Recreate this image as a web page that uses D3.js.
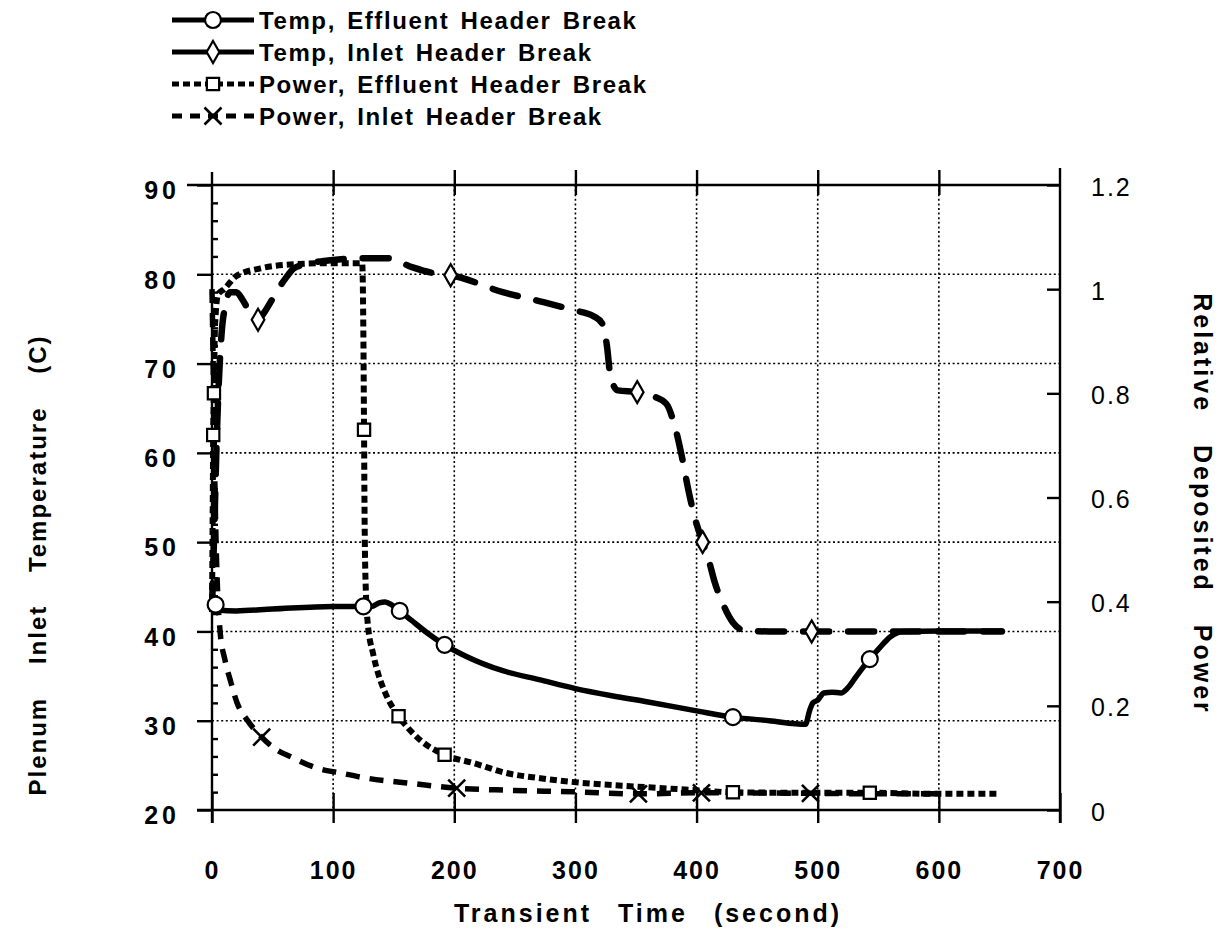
<!DOCTYPE html>
<html lang="en">
  <head>
    <meta charset="UTF-8" />
    <title>Plenum inlet temperature and deposited power</title>
    <style>
      body { margin: 0; background: #fff; }
      svg text { font-family: "Liberation Sans", Arial, Helvetica, sans-serif; fill: #000; }
    </style>
  </head>

  <body>
    <svg width="1221" height="934"></svg>

    <script src="https://d3js.org/d3.v7.min.js"></script>
    <script>
      // time axis ticks and both y axes
      var timeTicks = [0, 100, 200, 300, 400, 500, 600, 700];
      var tempTicks = [20, 30, 40, 50, 60, 70, 80, 90];
      var powerTicks = [0, 0.2, 0.4, 0.6, 0.8, 1, 1.2];

      // Temp, Effluent Header Break  [time s, temp C]
      var tempEffluent = [
        [0, 43.6], [3, 43.0], [5, 42.4], [20, 42.3], [50, 42.5], [100, 42.8],
        [125, 42.8], [132, 42.8], [138, 43.2], [143, 43.3], [148, 43.0],
        [152, 42.6], [155, 42.3], [165, 41.2], [178, 39.8], [192, 38.5],
        [210, 37.2], [240, 35.6], [270, 34.6], [300, 33.6], [330, 32.8],
        [360, 32.1], [400, 31.1], [430, 30.4], [460, 30.0], [490, 29.6],
        [493, 31.0], [496, 32.0], [500, 32.3], [505, 33.1], [512, 33.2],
        [519, 33.1], [525, 33.7], [532, 35.0], [543, 36.9], [552, 38.3],
        [560, 39.4], [571, 40.0], [600, 40.05], [652, 40.05]
      ];
      var tempEffluentMarks = [[3, 43.0], [125, 42.8], [155, 42.3], [192, 38.5], [430, 30.4], [543, 36.9]];

      // Temp, Inlet Header Break
      var tempInlet = [
        [0, 42.5], [2, 52], [4, 62], [6, 69], [8, 73.5], [11, 76.5], [15, 78],
        [20, 78.0], [25, 77.2], [31, 75.8], [37, 74.8], [42, 75.5], [48, 76.8],
        [54, 78.2], [61, 79.6], [68, 80.7], [80, 81.2], [100, 81.6], [130, 81.8],
        [145, 81.8], [165, 80.8], [184, 80.1], [197, 79.9], [240, 78.0],
        [270, 77.0], [298, 76.0], [315, 75.3], [322, 74.5], [326, 72.0],
        [329, 68.5], [335, 67.0], [351, 66.8], [365, 66.3], [375, 65.5],
        [382, 63.0], [388, 59.5], [393, 56.0], [398, 53.0], [405, 50.0],
        [410, 48.0], [415, 45.5], [422, 43.0], [430, 41.0], [440, 40.1],
        [460, 40.0], [495, 40.0], [652, 40.0]
      ];
      var tempInletMarks = [[38, 74.9], [197, 79.9], [351, 66.8], [405, 50.0], [495, 40.0]];

      // Power, Effluent Header Break  [time s, relative power]
      var powerEffluent = [
        [0, 0.38], [0.5, 0.55], [1, 0.72], [1.6, 0.8], [2.5, 0.93], [5, 0.99],
        [10, 1.0], [20, 1.025], [40, 1.04], [70, 1.048], [100, 1.05], [124, 1.05],
        [125, 0.9], [125.5, 0.73], [126, 0.55], [127, 0.42], [128.5, 0.36],
        [133, 0.3], [137, 0.263], [143, 0.225], [154, 0.18], [162, 0.157],
        [172, 0.134], [192, 0.106], [216, 0.09], [243, 0.071], [271, 0.061],
        [306, 0.052], [350, 0.045], [400, 0.038], [430, 0.034], [500, 0.033],
        [543, 0.033], [600, 0.031], [648, 0.031]
      ];
      var powerEffluentMarks = [[1, 0.72], [1.6, 0.8], [125.5, 0.73], [154, 0.18], [192, 0.106], [430, 0.034], [543, 0.033]];

      // Power, Inlet Header Break
      var powerInlet = [
        [0, 1.0], [1, 0.85], [2, 0.68], [3, 0.55], [4, 0.46], [5, 0.4],
        [6.6, 0.345], [10.7, 0.288], [15, 0.25], [20.5, 0.207], [29, 0.173],
        [41, 0.14], [50, 0.121], [67, 0.1], [86, 0.081], [106, 0.071],
        [128, 0.061], [161, 0.052], [202, 0.042], [243, 0.038], [298, 0.035],
        [352, 0.031], [404, 0.033], [494, 0.032], [560, 0.031], [600, 0.031]
      ];
      var powerInletMarks = [[41, 0.14], [202, 0.042], [352, 0.031], [404, 0.033], [494, 0.032]];

      var legendLabels = [
        "Temp, Effluent Header Break",
        "Temp, Inlet Header Break",
        "Power, Effluent Header Break",
        "Power, Inlet Header Break"
      ];

      (function () {
        "use strict";

        var svg = d3.select("svg");

        var x = d3.scaleLinear().domain([0, 700]).range([212, 1060]);
        var yT = d3.scaleLinear().domain([20, 90]).range([810, 185]);
        var yP = d3.scaleLinear().domain([0, 1.2]).range([810, 185]);

        var left = x.range()[0], right = x.range()[1];
        var top = yT.range()[1], bottom = yT.range()[0];

        // dotted grid
        var grid = svg.append("g")
          .attr("stroke", "#000")
          .attr("stroke-width", 1.6)
          .attr("stroke-dasharray", "2,2.6");
        grid.selectAll(".gx")
          .data(timeTicks.slice(1, -1))
          .enter().append("line")
          .attr("x1", function (d) { return x(d); })
          .attr("x2", function (d) { return x(d); })
          .attr("y1", top).attr("y2", bottom);
        grid.selectAll(".gy")
          .data(tempTicks.slice(1, -1))
          .enter().append("line")
          .attr("x1", left).attr("x2", right)
          .attr("y1", function (d) { return yT(d); })
          .attr("y2", function (d) { return yT(d); });

        // frame
        var frame = svg.append("g").attr("stroke", "#000").attr("stroke-width", 2.4);
        frame.append("line").attr("x1", left - 25).attr("x2", right).attr("y1", top).attr("y2", top);
        frame.append("line").attr("x1", left - 15).attr("x2", right).attr("y1", bottom).attr("y2", bottom);
        frame.append("line").attr("x1", left).attr("x2", left).attr("y1", top - 13).attr("y2", bottom + 13);
        frame.append("line").attr("x1", right).attr("x2", right).attr("y1", top - 17).attr("y2", bottom + 13);

        function styleAxis(g) {
          g.select(".domain").remove();
          g.selectAll(".tick line").attr("stroke", "#000").attr("stroke-width", 2.4);
        }

        // left axis
        svg.append("g")
          .attr("transform", "translate(" + left + ",0)")
          .call(d3.axisLeft(yT).tickValues(tempTicks).tickSize(15).tickPadding(17))
          .call(styleAxis)
          .selectAll("text")
          .attr("font-size", 25)
          .attr("font-weight", "bold")
          .attr("letter-spacing", 4)
          .attr("dy", "0.55em");

        // left minor ticks (inside)
        svg.append("g")
          .attr("transform", "translate(" + left + ",0)")
          .call(d3.axisRight(yT).tickValues(d3.range(22, 90, 2).filter(function (d) { return d % 10 !== 0; }))
            .tickSize(6).tickFormat(""))
          .call(styleAxis);

        // right axis
        svg.append("g")
          .attr("transform", "translate(" + right + ",0)")
          .call(d3.axisRight(yP).tickValues(powerTicks).tickSize(-13).tickPadding(31)
            .tickFormat(function (d) { return d === 0 || d === 1 ? String(d) : d.toFixed(1); }))
          .call(styleAxis)
          .selectAll("text")
          .attr("font-size", 25)
          .attr("letter-spacing", 2)
          .attr("dy", "0.4em");

        // bottom axis, ticks cross the line
        var bx = svg.append("g")
          .attr("transform", "translate(0," + bottom + ")")
          .call(d3.axisBottom(x).tickValues(timeTicks).tickSize(13).tickPadding(38))
          .call(styleAxis);
        bx.selectAll(".tick line").attr("y1", -17);
        bx.selectAll("text")
          .attr("font-size", 25)
          .attr("font-weight", "bold")
          .attr("letter-spacing", 2);

        // top axis
        var tx = svg.append("g")
          .attr("transform", "translate(0," + top + ")")
          .call(d3.axisTop(x).tickValues(timeTicks.slice(1, -1)).tickSize(15).tickFormat(""))
          .call(styleAxis);
        tx.selectAll(".tick line").attr("y1", 10);

        // series
        function lineFor(yScale) {
          return d3.line()
            .x(function (d) { return x(d[0]); })
            .y(function (d) { return yScale(d[1]); })
            .curve(d3.curveMonotoneX);
        }

        var series = [
          { data: tempEffluent, marks: tempEffluentMarks, y: yT, dash: null, width: 5.5, cap: "round", sym: "circle" },
          { data: tempInlet, marks: tempInletMarks, y: yT, dash: "26,19", width: 6.5, cap: "round", sym: "diamond" },
          { data: powerEffluent, marks: powerEffluentMarks, y: yP, dash: "7,4", width: 6, cap: "butt", sym: "square" },
          { data: powerInlet, marks: powerInletMarks, y: yP, dash: "14,10", width: 5.5, cap: "butt", sym: "x" }
        ];
        var legendDash = [null, null, "7,4", "10,8"];

        var symX = d3.symbolX || d3.symbolCross;
        function symbolPath(kind) {
          if (kind === "circle") return d3.symbol(d3.symbolCircle, 200)();
          if (kind === "diamond") return d3.symbol(d3.symbolDiamond, 140)();
          if (kind === "square") return d3.symbol(d3.symbolSquare, 150)();
          return d3.symbol(symX, 190)();
        }

        function drawMark(g, kind, px, py) {
          var p = g.append("path")
            .attr("d", symbolPath(kind))
            .attr("transform", "translate(" + px + "," + py + ")")
            .attr("stroke", "#000")
            .attr("stroke-width", 2.2);
          if (kind === "x") {
            p.attr("fill", "none").attr("stroke-width", 2.6);
          } else {
            p.attr("fill", "#fff");
          }
        }

        series.forEach(function (s) {
          svg.append("path")
            .datum(s.data)
            .attr("fill", "none")
            .attr("stroke", "#000")
            .attr("stroke-width", s.width)
            .attr("stroke-linecap", s.cap)
            .attr("stroke-linejoin", "round")
            .attr("stroke-dasharray", s.dash)
            .attr("d", lineFor(s.y));
        });

        series.forEach(function (s) {
          var g = svg.append("g");
          s.marks.forEach(function (m) {
            drawMark(g, s.sym, x(m[0]), s.y(m[1]));
          });
        });

        // legend
        var legendY = d3.scalePoint().domain(legendLabels).range([20, 116]);
        var legend = svg.append("g");
        legendLabels.forEach(function (label, i) {
          var ly = legendY(label);
          legend.append("line")
            .attr("x1", 172).attr("x2", 254)
            .attr("y1", ly).attr("y2", ly)
            .attr("stroke", "#000")
            .attr("stroke-width", 5)
            .attr("stroke-dasharray", legendDash[i]);
          drawMark(legend, series[i].sym, 213, ly);
          legend.append("text")
            .attr("x", 259)
            .attr("y", ly + 9)
            .attr("font-size", 24)
            .attr("font-weight", "bold")
            .attr("letter-spacing", 1.6)
            .attr("word-spacing", 3)
            .text(label);
        });

        // axis titles
        svg.append("text")
          .attr("transform", "translate(" + (d3.mean(x.range()) + 12) + ",922)")
          .attr("text-anchor", "middle")
          .attr("font-size", 25)
          .attr("font-weight", "bold")
          .attr("letter-spacing", 3)
          .attr("word-spacing", 16)
          .text("Transient Time (second)");

        svg.append("text")
          .attr("transform", "translate(46,565) rotate(-90)")
          .attr("text-anchor", "middle")
          .attr("font-size", 24)
          .attr("font-weight", "bold")
          .attr("letter-spacing", 2)
          .attr("word-spacing", 24)
          .text("Plenum Inlet Temperature (C)");

        svg.append("text")
          .attr("transform", "translate(1194,504) rotate(90)")
          .attr("text-anchor", "middle")
          .attr("font-size", 25)
          .attr("font-weight", "bold")
          .attr("letter-spacing", 3)
          .attr("word-spacing", 22)
          .text("Relative Deposited Power");
      })();
    </script>
  </body>
</html>
